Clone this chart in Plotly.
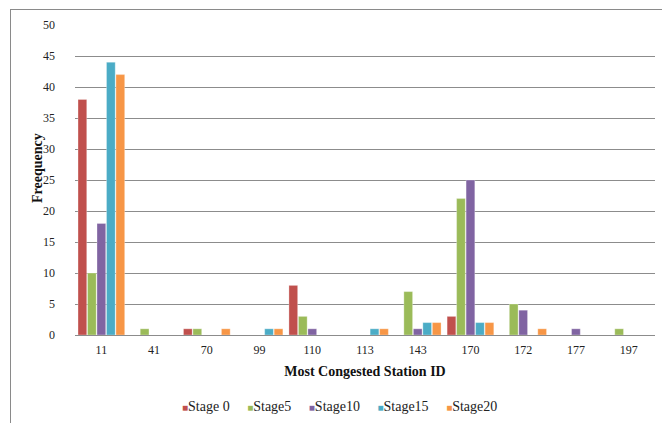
import plotly.graph_objects as go

stations = ["11", "41", "70", "99", "110", "113", "143", "170", "172", "177", "197"]
stage0 = [38, 0, 1, 0, 8, 0, 0, 3, 0, 0, 0]
stage5 = [10, 1, 1, 0, 3, 0, 7, 22, 5, 0, 1]
stage10 = [18, 0, 0, 0, 1, 0, 1, 25, 4, 1, 0]
stage15 = [44, 0, 0, 1, 0, 1, 2, 2, 0, 0, 0]
stage20 = [42, 0, 1, 1, 0, 1, 2, 2, 1, 0, 0]

series = [
    ("Stage 0", stage0, "#C0504D"),
    ("Stage5", stage5, "#9BBB59"),
    ("Stage10", stage10, "#8064A2"),
    ("Stage15", stage15, "#4BACC6"),
    ("Stage20", stage20, "#F79646"),
]

W, H = 662, 423
L, R, T, B = 75, 7, 25, 88
pw, ph = W - L - R, H - T - B

def px_x(p):
    return (p - L) / pw

def px_y(p):
    return (H - B - p) / ph

fig = go.Figure()
for name, vals, col in series:
    fig.add_trace(go.Bar(
        x=stations, y=vals, name=name, showlegend=False,
        marker=dict(color=col, line=dict(color="rgba(255,255,255,0.6)", width=0.5)),
    ))

font = "Liberation Serif"
legend_text = "&nbsp;&nbsp;&nbsp;&nbsp;&nbsp;".join(
    f"<span style='color:{col};font-size:10px'>■</span>{name}" for name, _, col in series
)

fig.update_layout(
    width=W, height=H,
    margin=dict(l=L, r=R, t=T, b=B, autoexpand=False),
    paper_bgcolor="white", plot_bgcolor="white",
    barmode="group", bargap=0.1, bargroupgap=0.08,
    font=dict(family=font, size=12, color="#222"),
    showlegend=False,
    xaxis=dict(type="category", showgrid=False, showline=True, automargin=False,
               linecolor="#8c8c8c", linewidth=1, ticks="",
               ticklabelstandoff=4,
               tickfont=dict(family=font, size=12, color="#222"),
               title=dict(text="<b>Most Congested Station ID</b>",
                          font=dict(family=font, size=14, color="#111"),
                          standoff=9)),
    yaxis=dict(range=[0, 50], dtick=5, showgrid=True, gridcolor="#8c8c8c",
               gridwidth=1, zeroline=False, showline=False, ticks="",
               automargin=False, ticklabelstandoff=19,
               tickfont=dict(family=font, size=12, color="#222")),
    annotations=[
        dict(text="<b>Freequency</b>", textangle=-90,
             xref="paper", yref="paper",
             x=px_x(37), y=px_y(168), showarrow=False,
             xanchor="center", yanchor="middle",
             font=dict(family=font, size=14, color="#111")),
        dict(text=legend_text, xref="paper", yref="paper",
             x=px_x(339), y=px_y(406), showarrow=False,
             xanchor="center", yanchor="middle",
             font=dict(family=font, size=14, color="#222")),
    ],
    shapes=[
        dict(type="line", xref="paper", yref="paper",
             x0=px_x(10.5), x1=px_x(10.5), y0=px_y(10), y1=px_y(430),
             line=dict(color="#8a8a8a", width=1)),
        dict(type="line", xref="paper", yref="paper",
             x0=px_x(10), x1=px_x(670), y0=px_y(9.5), y1=px_y(9.5),
             line=dict(color="#8a8a8a", width=1)),
    ],
)

fig.write_html("out.html", config={"displayModeBar": False},
               post_script="document.body.style.margin='0';")
